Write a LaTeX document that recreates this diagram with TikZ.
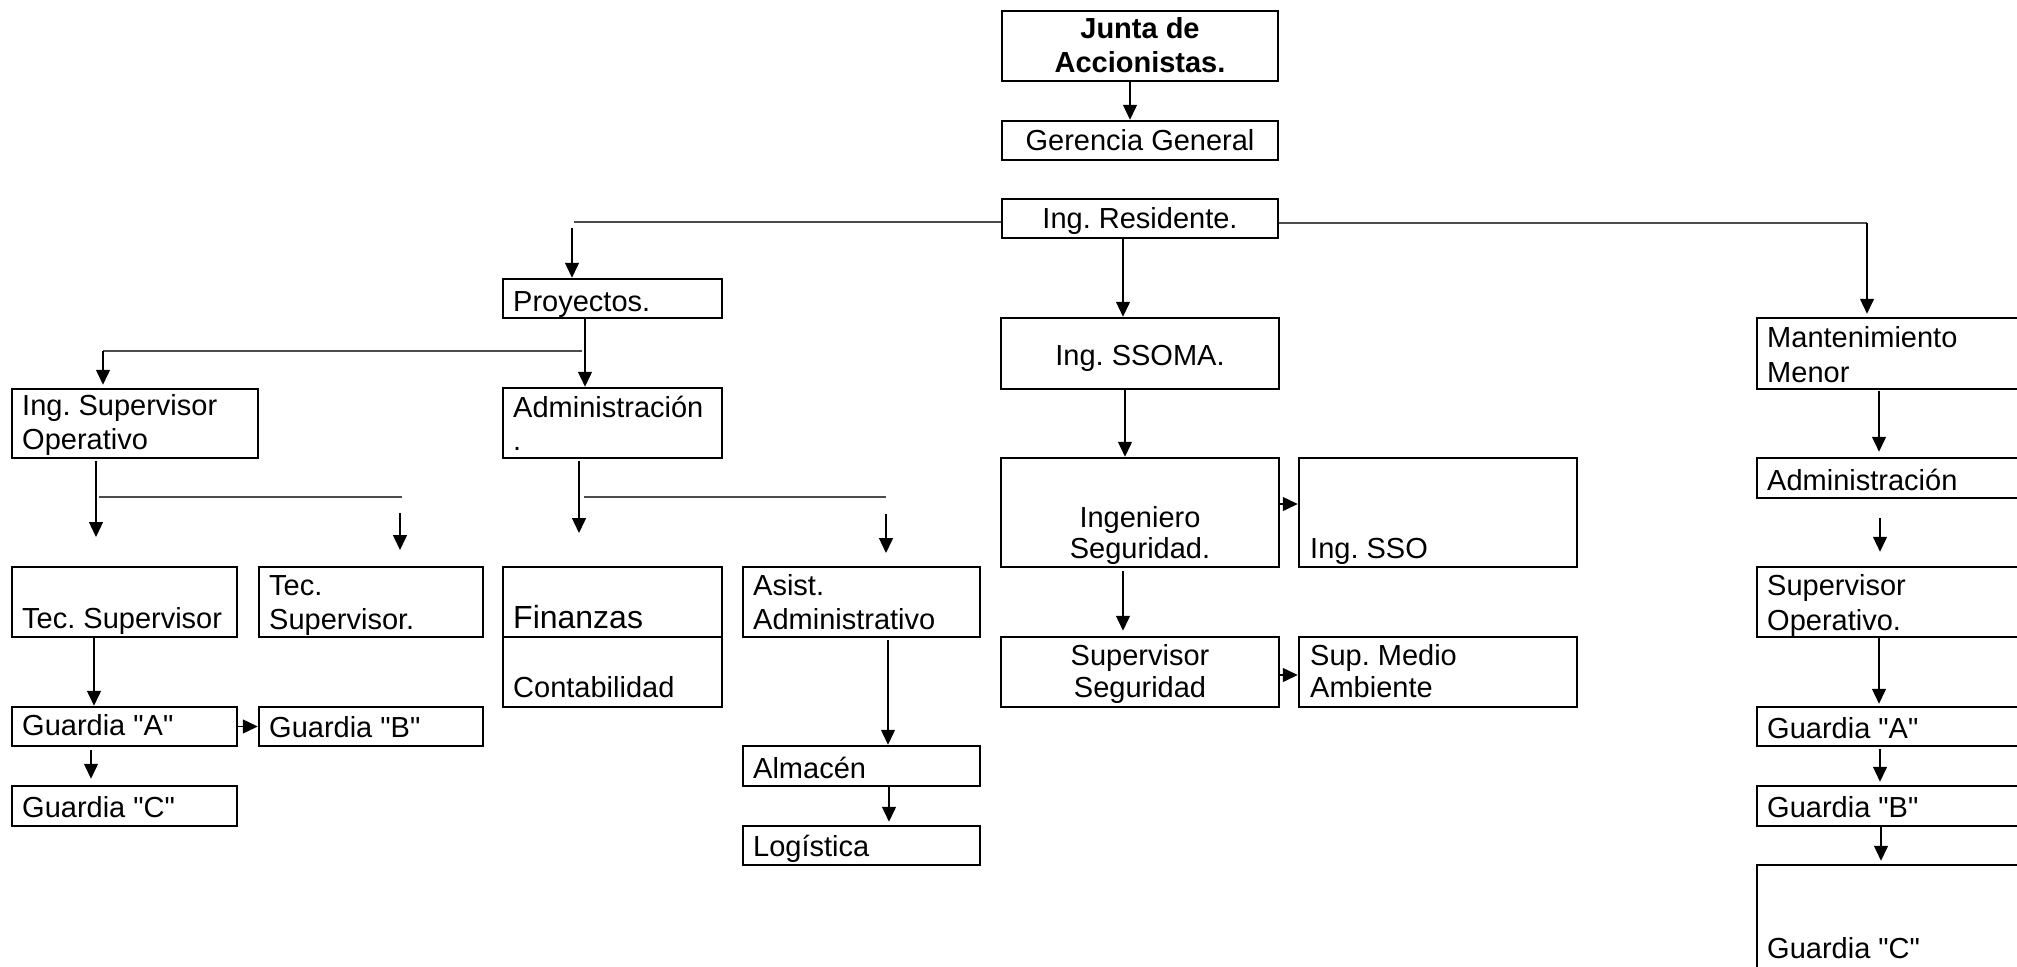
\documentclass[tikz,border=0pt]{standalone}
\usepackage{fontspec}
\setmainfont{Liberation Sans}
\newfontfamily\arialfont{Liberation Sans}
\usetikzlibrary{arrows.meta,calc,fit}
\begin{document}
\frenchspacing
\begin{tikzpicture}[x=1pt,y=-1pt,
  box/.style={draw, line width=2.5pt, inner sep=0pt},
  txt/.style={inner sep=0pt, font=\arialfont\fontsize{29}{34}\selectfont},
  tl/.style={txt, anchor=base west},
  tc/.style={txt, anchor=base},
  tlbig/.style={inner sep=0pt, font=\arialfont\fontsize{32}{36}\selectfont, anchor=base west},
  arr/.style={line width=1.4pt, -{Triangle[length=15pt,width=14pt]}},
  hl/.style={line width=2.2pt, draw=black!70}]
\useasboundingbox (0,0) rectangle (2017,966);
\clip (0,0) rectangle (2017,966);

% ---------- boxes ----------
\node[box, fit={(1002,11) (1278,81)}] (junta) {};
\node[box, fit={(1002,121) (1278,160)}] (gerencia) {};
\node[box, fit={(1002,199) (1278,238)}] (residente) {};
\node[box, fit={(503,279) (722,318)}] (proyectos) {};
\node[box, fit={(503,388) (722,458)}] (admin) {};
\node[box, fit={(12,389) (258,458)}] (ingsupop) {};
\node[box, fit={(12,567) (237,637)}] (tecsup1) {};
\node[box, fit={(259,567) (483,637)}] (tecsup2) {};
\node[box, fit={(12,707) (237,746)}] (guardA) {};
\node[box, fit={(259,707) (483,746)}] (guardB) {};
\node[box, fit={(12,786) (237,826)}] (guardC) {};
\node[box, fit={(503,567) (722,637)}] (finanzas) {};
\node[box, fit={(503,637) (722,707)}] (contab) {};
\node[box, fit={(743,567) (980,637)}] (asist) {};
\node[box, fit={(743,746) (980,786)}] (almacen) {};
\node[box, fit={(743,826) (980,865)}] (logistica) {};
\node[box, fit={(1001,318) (1279,389)}] (ssoma) {};
\node[box, fit={(1001,458) (1279,567)}] (ingseg) {};
\node[box, fit={(1299,458) (1577,567)}] (ingsso) {};
\node[box, fit={(1001,637) (1279,707)}] (supseg) {};
\node[box, fit={(1299,637) (1577,707)}] (supma) {};
\node[box, fit={(1757,318) (2030,389)}] (mant) {};
\node[box, fit={(1757,458) (2030,498)}] (admin2) {};
\node[box, fit={(1757,567) (2030,637)}] (supop) {};
\node[box, fit={(1757,707) (2030,746)}] (gA2) {};
\node[box, fit={(1757,786) (2030,826)}] (gB2) {};
\node[box, fit={(1757,865) (2030,1000)}] (gC2) {};

% ---------- texts ----------
\node[tc, font=\arialfont\fontsize{29}{34}\selectfont\bfseries] (t-junta1) at (1140,38) {Junta de};
\node[tc, font=\arialfont\fontsize{29}{34}\selectfont\bfseries] (t-junta2) at (1140,73) {Accionistas.};
\node[tc] (t-ger) at (1140,150) {Gerencia General};
\node[tc] (t-res) at (1140,228) {Ing. Residente.};
\node[tl] (t-proy) at (513,311) {Proyectos.};
\node[tl] (t-adm1) at (513,417) {Administración};
\node[tl] (t-adm2) at (513,450) {.};
\node[tl] (t-isup1) at (22,415) {Ing. Supervisor};
\node[tl] (t-isup2) at (22,449) {Operativo};
\node[tl] (t-tec1) at (22,628) {Tec. Supervisor};
\node[tl] (t-tec2a) at (269,595) {Tec.};
\node[tl] (t-tec2b) at (269,629) {Supervisor.};
\node[tl] (t-gA) at (22,735) {Guardia "A"};
\node[tl] (t-gB) at (269,737) {Guardia "B"};
\node[tl] (t-gC) at (22,817) {Guardia "C"};
\node[tlbig] (t-fin) at (513,628) {Finanzas};
\node[tl] (t-cont) at (513,697) {Contabilidad};
\node[tl] (t-asi1) at (753,595) {Asist.};
\node[tl] (t-asi2) at (753,629) {Administrativo};
\node[tl] (t-alm) at (753,778) {Almacén};
\node[tl] (t-log) at (753,856) {Logística};
\node[tc] (t-ssoma) at (1140,365) {Ing. SSOMA.};
\node[tc] (t-iseg1) at (1140,527) {Ingeniero};
\node[tc] (t-iseg2) at (1140,558) {Seguridad.};
\node[tl] (t-isso) at (1310,558) {Ing. SSO};
\node[tc] (t-sseg1) at (1140,665) {Supervisor};
\node[tc] (t-sseg2) at (1140,697) {Seguridad};
\node[tl] (t-sma1) at (1310,665) {Sup. Medio};
\node[tl] (t-sma2) at (1310,697) {Ambiente};
\node[tl] (t-man1) at (1767,347) {Mantenimiento};
\node[tl] (t-man2) at (1767,382) {Menor};
\node[tl] (t-adm3) at (1767,490) {Administración};
\node[tl] (t-sop1) at (1767,595) {Supervisor};
\node[tl] (t-sop2) at (1767,630) {Operativo.};
\node[tl] (t-gA2) at (1767,738) {Guardia "A"};
\node[tl] (t-gB2) at (1767,817) {Guardia "B"};
\node[tl] (t-gC2) at (1767,958) {Guardia "C"};

% ---------- free coordinates ----------
\coordinate (cL) at (574,222);
\coordinate (pL) at (572,228);
\coordinate (cR) at (1867,223);
\coordinate (b1) at (582,351);
\coordinate (b1c) at (103,351);
\coordinate (e1) at (96,537);
\coordinate (h1a) at (99,497);
\coordinate (h1b) at (402,497);
\coordinate (a1s) at (400,513);
\coordinate (a1e) at (400,550);
\coordinate (e2) at (579,533);
\coordinate (h2a) at (584,497);
\coordinate (h2b) at (886,497);
\coordinate (a2s) at (886,514);
\coordinate (a2e) at (886,553);
\coordinate (rc) at (1880,0);
\coordinate (m2s) at (1880,518);

% ---------- connectors ----------
\draw[arr] ([xshift=-10pt]junta.south) -- ([xshift=-10pt]gerencia.north);
\draw[hl] (residente.west |- cL) -- (cL);
\draw[arr] (pL) -- (pL |- proyectos.north);
\draw[arr] ([xshift=-17pt]residente.south) -- ([xshift=-17pt]ssoma.north);
\draw[hl] (residente.east |- cR) -- (cR);
\draw[arr] (cR) -- ($(cR |- mant.north)+(0,-3)$);

\draw[arr] ([xshift=-27.5pt]proyectos.south) -- ([xshift=-27.5pt]admin.north);
\draw[hl] (b1) -- (b1c);
\draw[arr] (b1c) -- ($(b1c |- ingsupop.north)+(0,-3)$);

\draw[arr] ($(e1 |- ingsupop.south)+(0,2)$) -- (e1);
\draw[hl] (h1a) -- (h1b);
\draw[arr] (a1s) -- (a1e);

\draw[arr] ($(e2 |- admin.south)+(0,2)$) -- (e2);
\draw[hl] (h2a) -- (h2b);
\draw[arr] (a2s) -- (a2e);

\draw[arr] ([xshift=-30.5pt]tecsup1.south) -- ([xshift=-30.5pt]guardA.north);
\draw[arr] (guardA.east) -- (guardB.west);
\draw[arr] ([xshift=-33.5pt,yshift=-3pt]guardA.south) -- ([xshift=-33.5pt,yshift=6pt]guardC.north);

\draw[arr] ([xshift=26.5pt,yshift=-2pt]asist.south) -- ([xshift=26.5pt]almacen.north);
\draw[arr] ([xshift=27.5pt]almacen.south) -- ([xshift=27.5pt,yshift=3pt]logistica.north);

\draw[arr] ([xshift=-15pt]ssoma.south) -- ([xshift=-15pt]ingseg.north);
\draw[arr] ([yshift=8.5pt]ingseg.east) -- ([yshift=8.5pt]ingsso.west);
\draw[arr] ([xshift=-17pt,yshift=-3pt]ingseg.south) -- ([xshift=-17pt,yshift=5pt]supseg.north);
\draw[arr] ([yshift=-3pt]supseg.east) -- ([yshift=-3pt]supma.west);

\draw[arr] ($(rc |- mant.south)+(-1,1)$) -- ($(rc |- admin2.north)+(-1,-5)$);
\draw[arr] (m2s) -- ($(rc |- supop.north)+(0,-14)$);
\draw[arr] ($(rc |- supop.south)+(-1,0)$) -- ($(rc |- gA2.north)+(-1,-2)$);
\draw[arr] ($(rc |- gA2.south)+(0,2)$) -- ($(rc |- gB2.north)+(0,-3)$);
\draw[arr] ($(rc |- gB2.south)+(1,0)$) -- ($(rc |- gC2.north)+(1,-3)$);
\end{tikzpicture}
\end{document}
